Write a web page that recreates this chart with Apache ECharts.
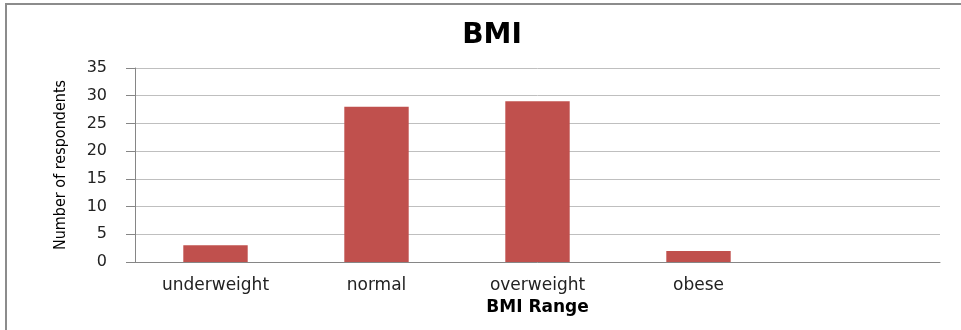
<!DOCTYPE html>
<html>
<head>
<meta charset="utf-8">
<script src="https://cdn.jsdelivr.net/npm/echarts@6/dist/echarts.min.js"></script>
<style>
html,body{margin:0;padding:0;background:#fff;}
#chart{width:961px;height:330px;}
</style>
</head>
<body>
<div id="chart"></div>
<script>
var categories = ['underweight', 'normal', 'overweight', 'obese', ''];
var respondents = [3, 28, 29, 2, null];
var yTicks = [0, 5, 10, 15, 20, 25, 30, 35];

var chart = echarts.init(document.getElementById('chart'));
chart.setOption({
  backgroundColor: '#ffffff',
  animation: false,
  title: {
    text: 'BMI',
    left: 487,
    top: 17,
    textAlign: 'center',
    textStyle: { fontFamily: 'DejaVu Sans', fontWeight: 'bold', fontSize: 28, color: '#000' }
  },
  graphic: [{
    type: 'rect',
    shape: { x: 6, y: 4, width: 1000, height: 400 },
    style: { fill: 'none', stroke: '#8c8c8c', lineWidth: 2 },
    silent: true
  }],
  grid: { left: 135, right: 21, top: 68, bottom: 68 },
  xAxis: {
    type: 'category',
    data: categories,
    name: 'BMI Range',
    nameLocation: 'middle',
    nameGap: 36,
    nameTextStyle: { fontFamily: 'DejaVu Sans', fontWeight: 'bold', fontSize: 17, color: '#000' },
    axisLine: { lineStyle: { color: '#868686', width: 1 } },
    axisTick: { show: false },
    axisLabel: { fontFamily: 'DejaVu Sans', fontSize: 17, color: '#222', margin: 15, interval: 0 }
  },
  yAxis: {
    type: 'value',
    min: yTicks[0],
    max: yTicks[yTicks.length - 1],
    interval: yTicks[1] - yTicks[0],
    name: 'Number of respondents',
    nameLocation: 'middle',
    nameGap: 66,
    nameTextStyle: { fontFamily: 'DejaVu Sans Condensed', fontSize: 16, color: '#000' },
    axisLine: { show: true, lineStyle: { color: '#868686', width: 1 } },
    axisTick: { show: true, length: 9, lineStyle: { color: '#868686' } },
    axisLabel: { fontFamily: 'DejaVu Sans', fontSize: 16, color: '#222', margin: 28 },
    splitLine: { lineStyle: { color: '#bfbfbf', width: 1 } }
  },
  series: [{
    type: 'bar',
    data: respondents,
    barWidth: '40%',
    itemStyle: { color: '#c0504d' }
  }]
});
</script>
</body>
</html>
